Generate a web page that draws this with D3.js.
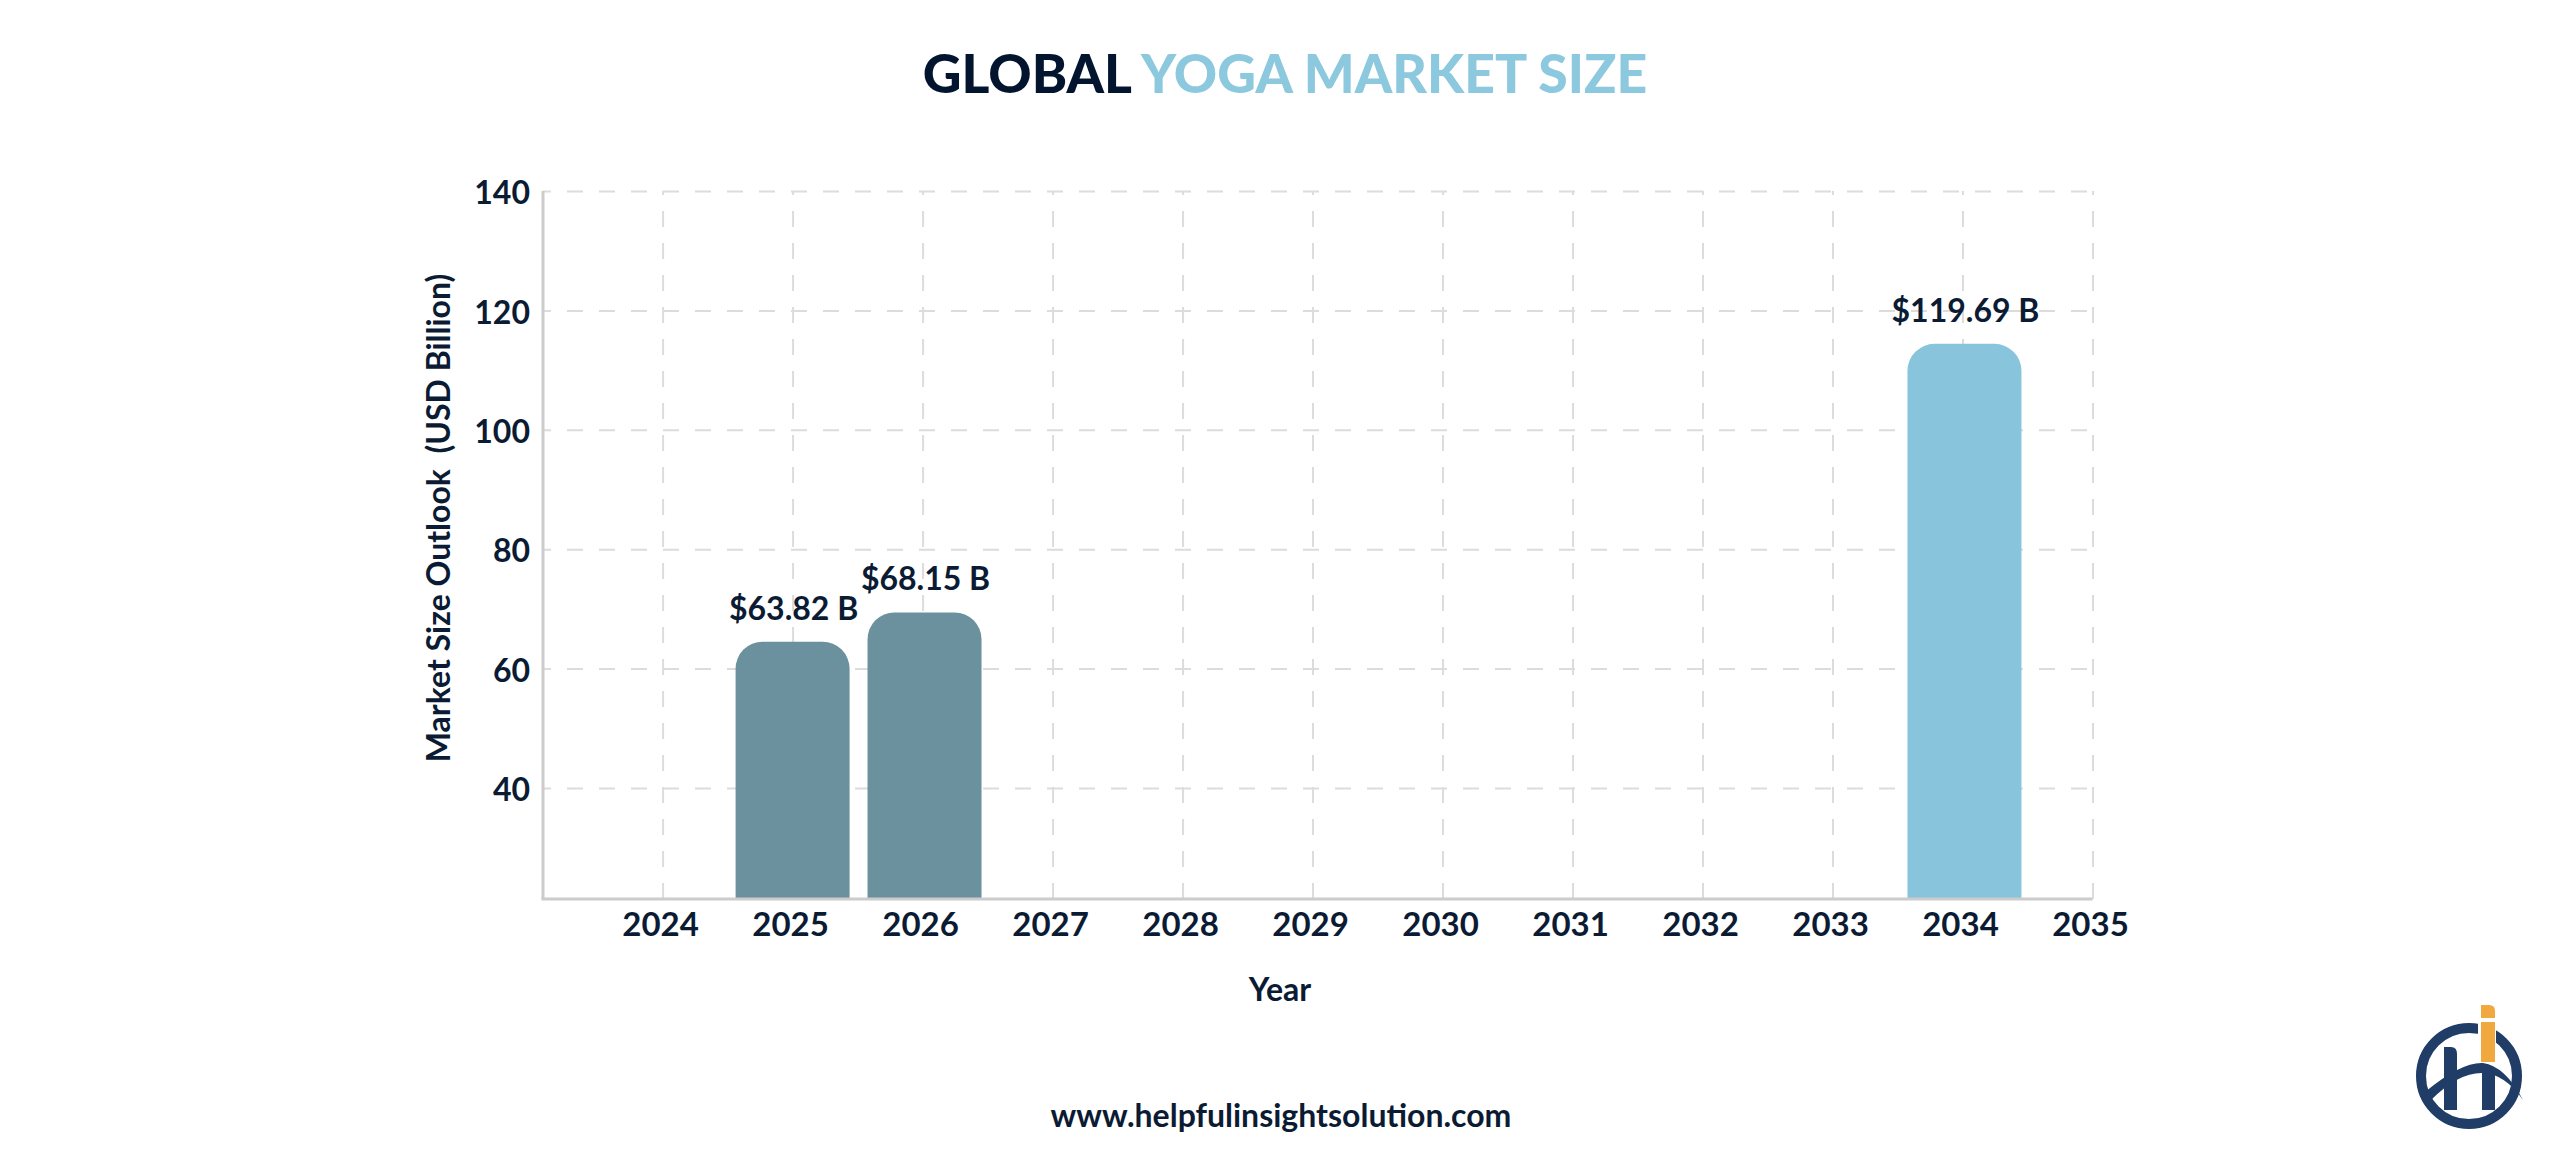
<!DOCTYPE html>
<html>
<head>
<meta charset="utf-8">
<script src="https://cdn.jsdelivr.net/npm/d3@7"></script>
<style>
  html, body { margin: 0; padding: 0; background: #fff; }
  svg { display: block; }
  text { font-family: Lato, sans-serif; fill: #0b1b33; }
</style>
</head>
<body>
<svg id="chart" width="2560" height="1167"></svg>
<script>
var yearTicks = [2024, 2025, 2026, 2027, 2028, 2029, 2030, 2031, 2032, 2033, 2034, 2035];
var valueTicks = [40, 60, 80, 100, 120, 140];
var barYears = [2025, 2026.015, 2034.015];   // bars sit a touch off their gridlines
var barValues = [64.5, 69.4, 114.4];   // bar heights as drawn against the axis
var barLabels = ["$63.82 B", "$68.15 B", "$119.69 B"];
var barColors = ["#6b919f", "#6b919f", "#88c5dc"];

var svg = d3.select("#chart");

var x = d3.scaleLinear().domain([2023.08, 2035]).range([543, 2092.5]);
var y = d3.scaleLinear().domain([21.4, 140]).range([899, 191]);

// grid
var xAxis = d3.axisBottom(x).tickValues(yearTicks).tickFormat(d3.format("d")).tickSize(-708).tickPadding(14);
var yAxis = d3.axisLeft(y).tickValues(valueTicks).tickSize(-1549.5).tickPadding(13);

var gx = svg.append("g").attr("transform", "translate(0,899)").call(xAxis);
var gy = svg.append("g").attr("transform", "translate(543,0)").call(yAxis);

svg.selectAll(".domain").remove();
svg.selectAll(".tick line")
  .attr("stroke", "#dcdcdc")
  .attr("stroke-width", 2)
  .attr("stroke-dasharray", "16,16");
gy.selectAll(".tick line").attr("stroke-dashoffset", 8);
svg.selectAll(".tick text")
  .style("font-family", "Lato, sans-serif")
  .style("font-weight", 700)
  .attr("fill", "#0b1b33");
gx.selectAll(".tick text").style("font-size", "33px").attr("dx", -2.5);
gy.selectAll(".tick text").style("font-size", "32px").attr("dy", "0.4em");

// bars, rounded on top only
function barPath(year, value) {
  var w = 114, r = 27;
  var left = x(year) - w / 2, top = y(value), bottom = y.range()[0];
  return "M" + left + "," + bottom +
    "V" + (top + r) +
    "A" + r + "," + r + " 0 0 1 " + (left + r) + "," + top +
    "H" + (left + w - r) +
    "A" + r + "," + r + " 0 0 1 " + (left + w) + "," + (top + r) +
    "V" + bottom + "Z";
}

svg.selectAll(".bar")
  .data(barYears)
  .enter()
  .append("path")
  .attr("class", "bar")
  .attr("d", function(d, i) { return barPath(d, barValues[i]); })
  .attr("fill", function(d, i) { return barColors[i]; });

svg.selectAll(".barLabel")
  .data(barYears)
  .enter()
  .append("text")
  .attr("class", "barLabel")
  .attr("x", function(d) { return x(d) + 1; })
  .attr("y", function(d, i) { return y(barValues[i]) - 22; })
  .attr("text-anchor", "middle")
  .style("font-size", "32px")
  .style("font-weight", 700)
  .text(function(d, i) { return barLabels[i]; });

// axis lines
svg.append("line").attr("x1", 543).attr("x2", 543).attr("y1", 191).attr("y2", 899)
  .attr("stroke", "#cccccc").attr("stroke-width", 3);
svg.append("line").attr("x1", 541.5).attr("x2", 2092.5).attr("y1", 899).attr("y2", 899)
  .attr("stroke", "#cccccc").attr("stroke-width", 3);

// titles
var title = svg.append("text")
  .attr("x", 1285)
  .attr("y", 93)
  .attr("text-anchor", "middle")
  .style("font-size", "53.5px")
  .style("font-weight", 900);
title.append("tspan").style("fill", "#03152e").text("GLOBAL ");
title.append("tspan").style("fill", "#8cc8de").text("YOGA MARKET SIZE");

svg.append("text")
  .attr("transform", "translate(450,518) rotate(-90)")
  .attr("text-anchor", "middle")
  .style("font-size", "32px")
  .style("font-weight", 700)
  .style("white-space", "pre")
  .text("Market Size Outlook  (USD Billion)");

svg.append("text")
  .attr("x", 1280)
  .attr("y", 1001)
  .attr("text-anchor", "middle")
  .style("font-size", "32px")
  .style("font-weight", 700)
  .text("Year");

svg.append("text")
  .attr("x", 1281)
  .attr("y", 1127)
  .attr("text-anchor", "middle")
  .style("font-size", "32px")
  .style("font-weight", 700)
  .text("www.helpfulinsightsolution.com");

// logo
var logo = svg.append("g").attr("transform", "translate(2469,1076)");
logo.append("circle").attr("r", 48).attr("fill", "none").attr("stroke", "#1f3d66").attr("stroke-width", 10);
logo.append("rect").attr("x", 9).attr("y", -60).attr("width", 18).attr("height", 30).attr("fill", "#fff");
logo.append("path").attr("fill", "#1f3d66")
  .attr("d", "M-25,-29H-18Q-12,-29 -12,-22V34H-25ZM13,-8H26V34H13Z");
logo.append("path").attr("fill", "#1f3d66")
  .attr("d", "M-44,16Q-8,-14 14,-13Q36,-10 54,24Q36,-2 14,-3Q-10,-4 -38,24Z");
logo.append("path").attr("fill", "#f0a83f")
  .attr("d", "M12,-71H20Q26,-71 26,-65V-58H12ZM12,-54H26V-14H12Z");
</script>
</body>
</html>
